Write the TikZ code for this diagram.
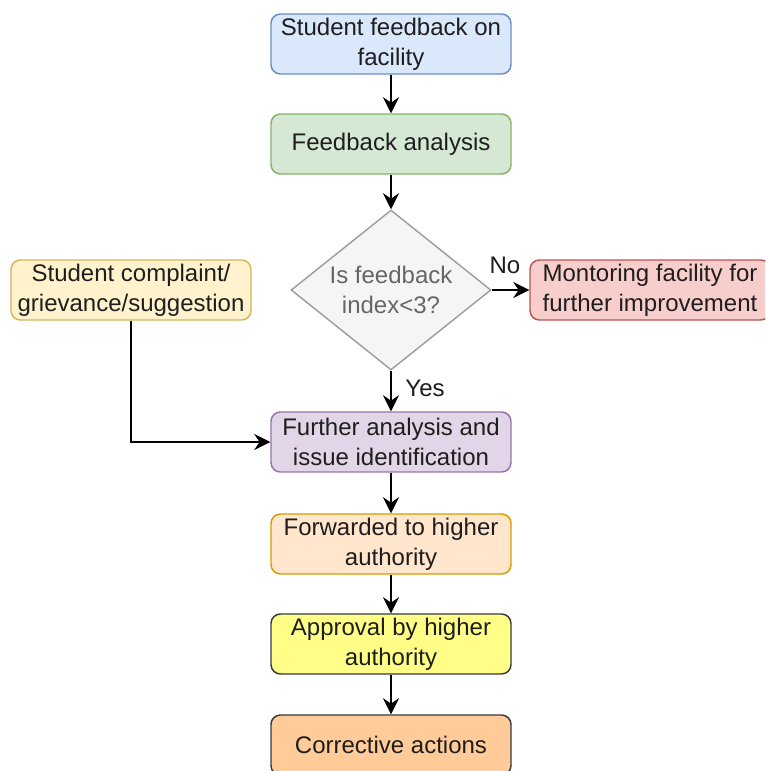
\documentclass[tikz,border=0pt]{standalone}
\usepackage{fontspec}
\setmainfont{Liberation Sans}
\usetikzlibrary{shapes.geometric,arrows.meta}

\definecolor{blueF}{HTML}{DAE8FC}\definecolor{blueD}{HTML}{6C8EBF}
\definecolor{greenF}{HTML}{D5E8D4}\definecolor{greenD}{HTML}{82B366}
\definecolor{grayF}{HTML}{F5F5F5}\definecolor{grayD}{HTML}{9E9E9E}
\definecolor{grayT}{HTML}{666666}
\definecolor{redF}{HTML}{F8CECC}\definecolor{redD}{HTML}{B85450}
\definecolor{creamF}{HTML}{FFF2CC}\definecolor{creamD}{HTML}{D6B656}
\definecolor{purpleF}{HTML}{E1D5E7}\definecolor{purpleD}{HTML}{9673A6}
\definecolor{peachF}{HTML}{FFE6CC}\definecolor{peachD}{HTML}{D79B00}
\definecolor{lemonF}{HTML}{FFFF88}\definecolor{darkD}{HTML}{36393D}
\definecolor{orangeF}{HTML}{FFCC99}
\definecolor{ink}{HTML}{1E1E1E}

\tikzset{
  box/.style={rectangle, rounded corners=7pt, line width=1.1pt,
    minimum width=180pt, minimum height=45pt, inner sep=0pt,
    align=center, text=ink,
    font=\fontsize{18}{22.5}\selectfont},
  flow/.style={line width=1.6pt, -{Stealth[length=12pt,width=12pt,inset=4pt]}},
  lbl/.style={font=\fontsize{18}{22.5}\selectfont, text=ink, inner sep=0pt}
}

\begin{document}
\begin{tikzpicture}[x=0.75pt,y=-0.75pt]
  \useasboundingbox (0,0) rectangle (765,771);
  \clip (0,0) rectangle (765,771);

  \node[box, fill=blueF, draw=blueD] (fb) at (391,44) {Student feedback on\\facility};
  \node[box, fill=greenF, draw=greenD] (an) at (391,144) {Feedback analysis};
  \node[diamond, fill=grayF, draw=grayD, line width=1.1pt, inner sep=0pt,
        minimum width=150pt, minimum height=120pt] (dec) at (391,290) {};
  \node[align=center, text=grayT, font=\fontsize{18}{22.5}\selectfont] (dect) at (dec) {Is feedback\\index<3?};
  \node[box, fill=redF, draw=redD] (mon) at (650,290) {Montoring facility for\\further improvement};
  \node[box, fill=creamF, draw=creamD] (cmp) at (131,290) {Student complaint/\\grievance/suggestion};
  \node[box, fill=purpleF, draw=purpleD] (fa) at (391,442) {Further analysis and\\issue identification};
  \node[box, fill=peachF, draw=peachD] (fw) at (391,544) {Forwarded to higher\\authority};
  \node[box, fill=lemonF, draw=darkD] (ap) at (391,644) {Approval by higher\\authority};
  \node[box, fill=orangeF, draw=darkD] (ca) at (391,745) {Corrective actions};

  \draw[flow] (fb) -- (an);
  \draw[flow] (an) -- (dec.north);
  \draw[flow] (dec.east) -- (mon);
  \draw[flow] (dec.south) -- (fa);
  \draw[flow] (cmp.south) |- (fa.west);
  \draw[flow] (fa) -- (fw);
  \draw[flow] (fw) -- (ap);
  \draw[flow] (ap) -- (ca);

  \node[lbl] (no) at (505,265) {No};
  \node[lbl] (yes) at (425,388) {Yes};
\end{tikzpicture}
\end{document}
